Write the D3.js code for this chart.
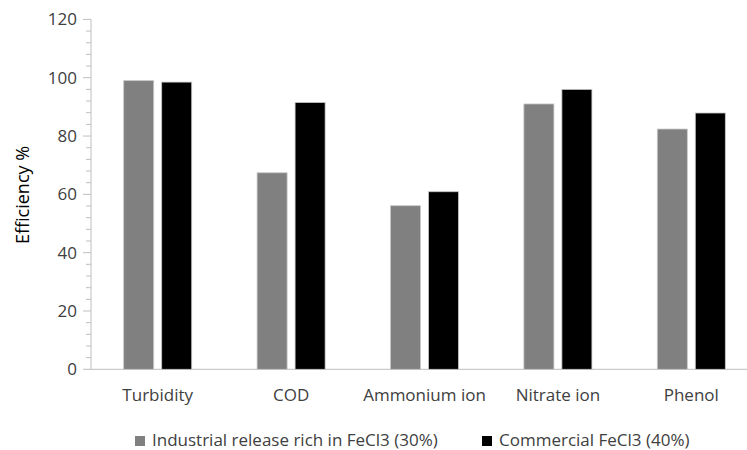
<!DOCTYPE html>
<html>
<head>
<meta charset="utf-8">
<script src="https://cdn.jsdelivr.net/npm/d3@7"></script>
<style>
  html, body { margin: 0; padding: 0; background: #fff; }
  svg { display: block; font-family: "Open Sans", "Noto Sans", sans-serif; }
</style>
</head>
<body>
<svg id="chart" width="747" height="450"></svg>
<script>
// Removal efficiency per parameter for the two coagulants
const categories = ["Turbidity", "COD", "Ammonium ion", "Nitrate ion", "Phenol"];
const seriesNames = ["Industrial release rich in FeCl3 (30%)", "Commercial FeCl3 (40%)"];
const industrialValues = [99, 67.4, 56.1, 91, 82.4];
const commercialValues = [98.5, 91.5, 60.9, 96, 87.9];
const seriesColors = ["#808080", "#000000"];
const yTicks = [0, 20, 40, 60, 80, 100, 120];

const svg = d3.select("#chart");
const plotLeft = 91, plotRight = 758, plotTop = 19.4, plotBottom = 369.3;

const x0 = d3.scaleBand().domain(categories).range([plotLeft, plotRight]).paddingInner(0).paddingOuter(0);
const x1 = d3.scaleBand().domain(seriesNames).range([0, x0.bandwidth()]).paddingInner(0.21).paddingOuter(0.86);
const y = d3.scaleLinear().domain([0, 120]).range([plotBottom, plotTop]);

const rows = categories.map((c, i) => ({
  category: c,
  values: [industrialValues[i], commercialValues[i]]
}));

// y axis with major ticks every 20 and minor ticks every 4
const yAxis = svg.append("g").attr("transform", `translate(${plotLeft},0)`);
yAxis.append("line")
  .attr("x1", 0).attr("x2", 0).attr("y1", y(120)).attr("y2", y(0))
  .attr("stroke", "#bfbfbf").attr("stroke-width", 1);
const minor = d3.range(0, 121, 4).filter(v => v % 20 !== 0);
yAxis.selectAll("line.minor").data(minor).join("line")
  .attr("class", "minor")
  .attr("x1", -5).attr("x2", 0)
  .attr("y1", d => y(d)).attr("y2", d => y(d))
  .attr("stroke", "#bfbfbf").attr("stroke-width", 1);
yAxis.selectAll("line.major").data(yTicks).join("line")
  .attr("class", "major")
  .attr("x1", -8).attr("x2", 0)
  .attr("y1", d => y(d)).attr("y2", d => y(d))
  .attr("stroke", "#bfbfbf").attr("stroke-width", 1);
yAxis.selectAll("text").data(yTicks).join("text")
  .attr("x", -14).attr("y", d => y(d))
  .attr("dy", "0.35em")
  .attr("text-anchor", "end")
  .attr("font-size", 17)
  .attr("fill", "#404040")
  .text(d => d);

// x axis baseline
svg.append("line")
  .attr("x1", plotLeft).attr("x2", plotRight).attr("y1", y(0)).attr("y2", y(0))
  .attr("stroke", "#bfbfbf").attr("stroke-width", 1);

// bars
const groups = svg.append("g").selectAll("g").data(rows).join("g")
  .attr("transform", d => `translate(${x0(d.category)},0)`);
groups.selectAll("rect").data(d => d.values.map((v, i) => ({ name: seriesNames[i], value: v, i })))
  .join("rect")
  .attr("x", d => x1(d.name))
  .attr("width", x1.bandwidth())
  .attr("y", d => y(d.value))
  .attr("height", d => y(0) - y(d.value))
  .attr("fill", d => seriesColors[d.i])
  .attr("stroke", "#c8c8c8")
  .attr("stroke-width", 0.8);

// category labels
svg.append("g").selectAll("text").data(categories).join("text")
  .attr("x", d => x0(d) + x0.bandwidth() / 2)
  .attr("y", 401)
  .attr("text-anchor", "middle")
  .attr("font-size", 17)
  .attr("fill", "#404040")
  .text(d => d);

// y axis title
svg.append("text")
  .attr("transform", "translate(29,195) rotate(-90)")
  .attr("text-anchor", "middle")
  .attr("font-size", 18)
  .attr("fill", "#000")
  .text("Efficiency %");

// legend
const legendX = [135, 482];
const legend = svg.append("g").selectAll("g").data(seriesNames).join("g")
  .attr("transform", (d, i) => `translate(${legendX[i]},436)`);
legend.append("rect")
  .attr("width", 10).attr("height", 10)
  .attr("fill", (d, i) => seriesColors[i]);
legend.append("text")
  .attr("x", 17).attr("y", 10)
  .attr("font-size", 17)
  .attr("fill", "#404040")
  .text(d => d);
</script>
</body>
</html>
